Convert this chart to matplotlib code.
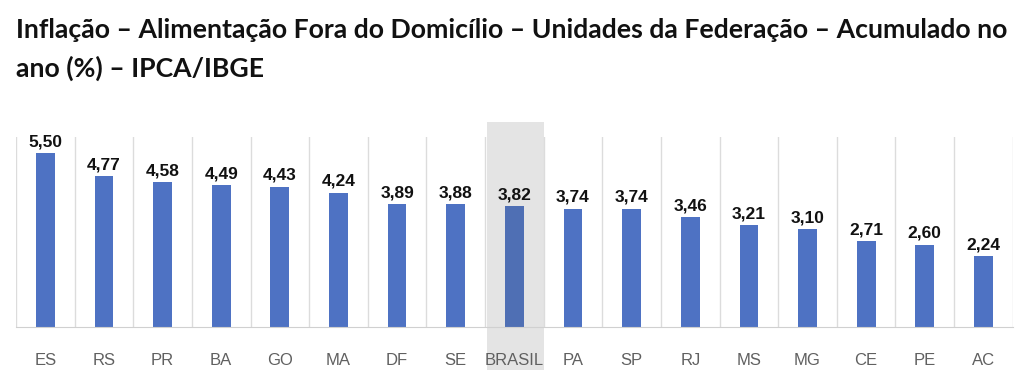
import matplotlib.pyplot as plt
from matplotlib.patches import Rectangle

# data
estados = ['ES', 'RS', 'PR', 'BA', 'GO', 'MA', 'DF', 'SE', 'BRASIL',
           'PA', 'SP', 'RJ', 'MS', 'MG', 'CE', 'PE', 'AC']
valores = [5.50, 4.77, 4.58, 4.49, 4.43, 4.24, 3.89, 3.88, 3.82,
           3.74, 3.74, 3.46, 3.21, 3.10, 2.71, 2.60, 2.24]
destaque = 'BRASIL'

titulo = ('Inflação – Alimentação Fora do Domicílio – Unidades da Federação – Acumulado no\n'
          'ano (%) – IPCA/IBGE')

fig = plt.figure(figsize=(10.24, 3.9), dpi=100)
ax = fig.add_axes([0.0156, 0.1615, 0.9734, 0.4872])

n = len(estados)
x = list(range(n))
cores = ['#4F6FB4' if e == destaque else '#4E72C3' for e in estados]

# grey band behind the national value
i_br = estados.index(destaque)
ax.add_patch(Rectangle((i_br - 0.47, -1.35), 0.97, 7.82, facecolor='#E4E4E4',
                       edgecolor='none', clip_on=False, zorder=0))

# vertical separators
for k in range(n + 1):
    ax.plot([k - 0.5, k - 0.5], [0, 6], color='#DCDCDC', lw=1, zorder=1)

ax.bar(x, valores, width=0.32, color=cores, zorder=2)

for xi, v in zip(x, valores):
    ax.text(xi, v + 0.12, f'{v:.2f}'.replace('.', ','), ha='center', va='bottom',
            fontsize=12.5, fontweight='bold', family='Liberation Sans', color='#111111')

ax.set_xlim(-0.5, n - 0.5)
ax.set_ylim(0, 6)
ax.set_yticks([])
ax.set_xticks(x)
ax.set_xticklabels(estados, fontsize=12, color='#606060', family='Liberation Sans')
ax.tick_params(axis='x', length=0, pad=19)
for s in ['top', 'right', 'left']:
    ax.spines[s].set_visible(False)
ax.spines['bottom'].set_color('#D0D0D0')
ax.spines['bottom'].set_zorder(3)

fig.text(0.0156, 0.955, titulo, ha='left', va='top', fontsize=19.2, fontweight='bold',
         family='Lato', color='#111111', linespacing=1.65)

fig.savefig('out.png', dpi=100, facecolor='white')
